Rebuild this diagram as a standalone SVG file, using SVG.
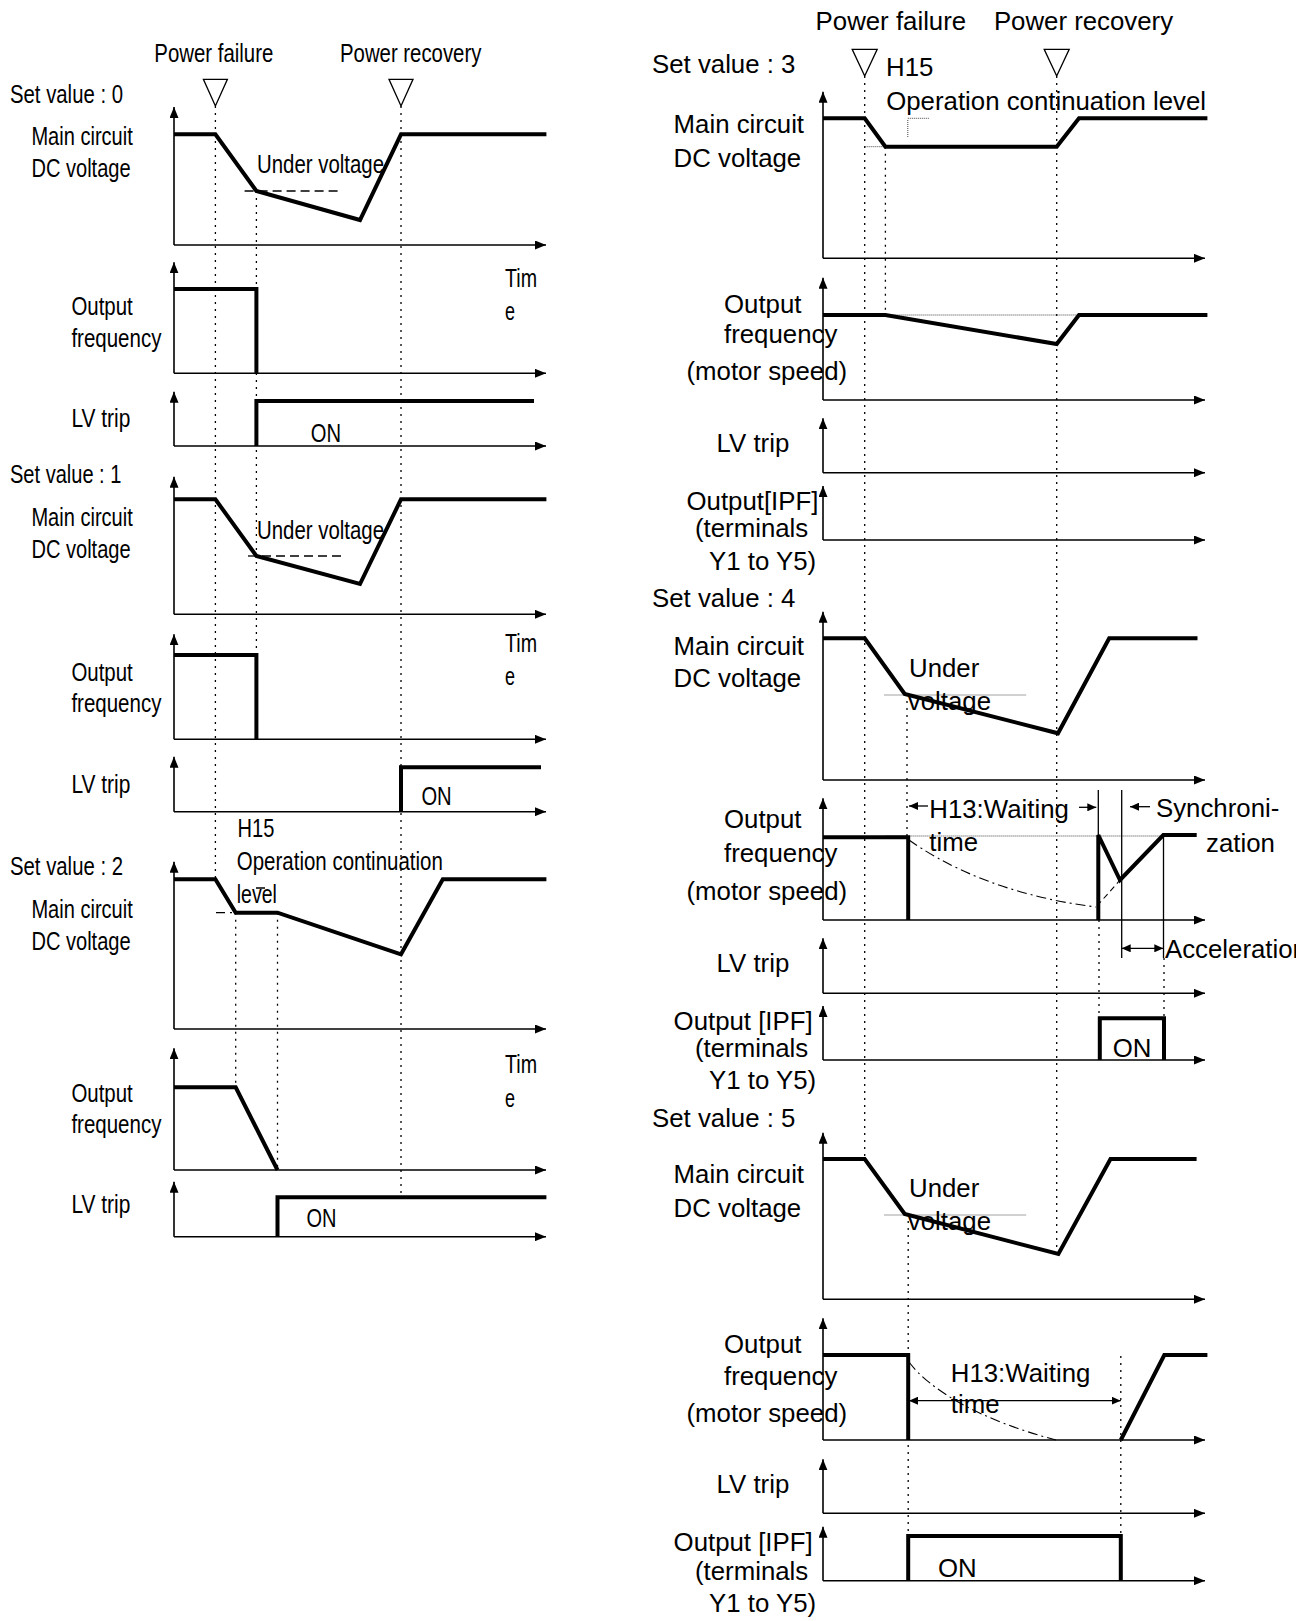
<svg xmlns="http://www.w3.org/2000/svg" width="1315" height="1621" viewBox="0 0 1315 1621">
<style>
.l{font-family:"Liberation Sans Narrow","Liberation Sans",Arial,sans-serif;font-size:25.5px;fill:#000}
.r{font-family:"Liberation Sans",Arial,sans-serif;font-size:25.8px;fill:#000}
.ax{stroke:#000;stroke-width:1.6;fill:none;marker-end:url(#ah)}
.th{stroke:#000;stroke-width:4;fill:none;stroke-linejoin:miter}
.dot{stroke:#000;stroke-width:1.3;fill:none;stroke-dasharray:2 5}
.fd{stroke:#444;stroke-width:1;fill:none;stroke-dasharray:1 1}
.dash{stroke:#000;stroke-width:1.3;fill:none;stroke-dasharray:9 5}
.dd{stroke:#000;stroke-width:1.1;fill:none;stroke-dasharray:10 4 2 4}
.thin{stroke:#000;stroke-width:1.3;fill:none}
.sa{stroke:#000;stroke-width:1.3;fill:none}
.tri{fill:#fff;stroke:#000;stroke-width:1.3}
</style>
<defs>
<marker id="ah" viewBox="0 0 11 9" refX="11" refY="4.5" markerWidth="11" markerHeight="9" markerUnits="userSpaceOnUse" orient="auto"><path d="M0,0 L11,4.5 L0,9 z" fill="#000"/></marker>
<marker id="sh" viewBox="0 0 9 8" refX="9" refY="4" markerWidth="9" markerHeight="8" markerUnits="userSpaceOnUse" orient="auto-start-reverse"><path d="M0,0 L9,4 L0,8 z" fill="#000"/></marker>
<clipPath id="clipR"><rect x="0" y="0" width="1296" height="1621"/></clipPath>
</defs>
<rect width="1315" height="1621" fill="#fff"/>

<!-- guide lines (dotted verticals) -->
<g id="guides">
<path class="dot" d="M215.4,106 V879.3"/>
<path class="dot" d="M256.4,191 V739.3"/>
<path class="dot" d="M401,106 V1197"/>
<path class="dot" d="M235.7,912.7 V1087"/>
<path class="dot" d="M277.5,912.7 V1170"/>
<path class="dot" d="M864.7,76 V1159"/>
<path class="dot" d="M1056.7,76 V1254"/>
<path class="dot" d="M885.4,146.7 V315"/>
<path class="dot" d="M907,694 V837"/>
<path class="dot" d="M1099,920 V1018"/>
<path class="dot" d="M1164,958 V1060"/>
<path class="dot" d="M908.2,1214 V1536"/>
<path class="dot" d="M1120.8,1356 V1536"/>
</g>

<!-- event markers -->
<g id="markers">
<text class="l" x="154.3" y="61.7" textLength="119" lengthAdjust="spacingAndGlyphs">Power failure</text>
<text class="l" x="340" y="61.7" textLength="141.4" lengthAdjust="spacingAndGlyphs">Power recovery</text>
<path class="tri" d="M203.4,79.3 H227.4 L215.4,106 Z"/>
<path class="tri" d="M389,79.3 H413 L401,106 Z"/>
<text class="r" x="815.6" y="30">Power failure</text>
<text class="r" x="993.9" y="30">Power recovery</text>
<path class="tri" d="M852.2,49.3 H877.2 L864.7,76 Z"/>
<path class="tri" d="M1044.2,49.3 H1069.2 L1056.7,76 Z"/>
</g>

<!-- Set value 0 -->
<g id="sv0">
<text class="l" x="10" y="103.3" textLength="113" lengthAdjust="spacingAndGlyphs">Set value : 0</text>
<text class="l" x="31.4" y="145" textLength="101.4" lengthAdjust="spacingAndGlyphs">Main circuit</text>
<text class="l" x="31.4" y="176.7" textLength="99.3" lengthAdjust="spacingAndGlyphs">DC voltage</text>
<path class="ax" d="M174,245 V107"/>
<path class="ax" d="M174,245 H546"/>
<path class="dash" d="M244.6,191 H341"/>
<text class="l" x="257" y="173.3" textLength="127" lengthAdjust="spacingAndGlyphs">Under voltage</text>
<path class="th" d="M174,134.3 H215.4 L256.4,191 L360,220 L401,134.3 H546.4"/>
<text class="l" x="71.4" y="315" textLength="61.4" lengthAdjust="spacingAndGlyphs">Output</text>
<text class="l" x="71.4" y="346.7" textLength="90" lengthAdjust="spacingAndGlyphs">frequency</text>
<text class="l" x="505" y="286.7" textLength="32" lengthAdjust="spacingAndGlyphs">Tim</text>
<text class="l" x="505" y="320" textLength="10" lengthAdjust="spacingAndGlyphs">e</text>
<path class="ax" d="M174,373.3 V262.3"/>
<path class="ax" d="M174,373.3 H546"/>
<path class="th" d="M174,289 H256.4 V373.3"/>
<text class="l" x="71.4" y="426.7" textLength="59" lengthAdjust="spacingAndGlyphs">LV trip</text>
<path class="ax" d="M174,446 V391.7"/>
<path class="ax" d="M174,446 H546"/>
<path class="th" d="M256.4,446 V401 H534"/>
<text class="l" x="310.7" y="441.7" textLength="30.3" lengthAdjust="spacingAndGlyphs">ON</text>
</g>

<!-- Set value 1 -->
<g id="sv1">
<text class="l" x="10" y="482.7" textLength="111.4" lengthAdjust="spacingAndGlyphs">Set value : 1</text>
<text class="l" x="31.4" y="526" textLength="101.4" lengthAdjust="spacingAndGlyphs">Main circuit</text>
<text class="l" x="31.4" y="558.3" textLength="99.3" lengthAdjust="spacingAndGlyphs">DC voltage</text>
<path class="ax" d="M174,614.3 V476.7"/>
<path class="ax" d="M174,614.3 H546"/>
<path class="dash" d="M248,556 H343.6"/>
<text class="l" x="257" y="539.3" textLength="127" lengthAdjust="spacingAndGlyphs">Under voltage</text>
<path class="th" d="M174,499.3 H215.4 L256.4,556 L360,584 L401,499.3 H546.4"/>
<text class="l" x="71.4" y="680.7" textLength="61.4" lengthAdjust="spacingAndGlyphs">Output</text>
<text class="l" x="71.4" y="711.7" textLength="90" lengthAdjust="spacingAndGlyphs">frequency</text>
<text class="l" x="505" y="651.7" textLength="32" lengthAdjust="spacingAndGlyphs">Tim</text>
<text class="l" x="505" y="685" textLength="10" lengthAdjust="spacingAndGlyphs">e</text>
<path class="ax" d="M174,739.3 V634.3"/>
<path class="ax" d="M174,739.3 H546"/>
<path class="th" d="M174,655 H256.4 V739.3"/>
<text class="l" x="71.4" y="792.7" textLength="59" lengthAdjust="spacingAndGlyphs">LV trip</text>
<path class="ax" d="M174,811.7 V756.7"/>
<path class="ax" d="M174,811.7 H546"/>
<path class="th" d="M401,811.7 V767.3 H541"/>
<text class="l" x="421.4" y="805" textLength="30.3" lengthAdjust="spacingAndGlyphs">ON</text>
</g>

<!-- Set value 2 -->
<g id="sv2">
<text class="l" x="237.5" y="836.7" textLength="36.8" lengthAdjust="spacingAndGlyphs">H15</text>
<text class="l" x="236.8" y="870" textLength="206" lengthAdjust="spacingAndGlyphs">Operation continuation</text>
<text class="l" x="236.8" y="903.3" textLength="40" lengthAdjust="spacingAndGlyphs">level</text>
<text class="l" x="10" y="875" textLength="113" lengthAdjust="spacingAndGlyphs">Set value : 2</text>
<text class="l" x="31.4" y="918.3" textLength="101.4" lengthAdjust="spacingAndGlyphs">Main circuit</text>
<text class="l" x="31.4" y="950" textLength="99.3" lengthAdjust="spacingAndGlyphs">DC voltage</text>
<path class="ax" d="M174,1029 V861.7"/>
<path class="ax" d="M174,1029 H546"/>
<path class="dash" d="M216,912.7 H232 M256,888 H266"/>
<path class="th" d="M174,879.3 H215.4 L235.7,912.7 H277.5 L401,954.3 L442.8,879.3 H546.4"/>
<text class="l" x="71.4" y="1101.7" textLength="61.4" lengthAdjust="spacingAndGlyphs">Output</text>
<text class="l" x="71.4" y="1133.3" textLength="90" lengthAdjust="spacingAndGlyphs">frequency</text>
<text class="l" x="505" y="1073.3" textLength="32" lengthAdjust="spacingAndGlyphs">Tim</text>
<text class="l" x="505" y="1106.7" textLength="10" lengthAdjust="spacingAndGlyphs">e</text>
<path class="ax" d="M174,1170 V1048.3"/>
<path class="ax" d="M174,1170 H546"/>
<path class="th" d="M174,1087.3 H235.7 L277.5,1170"/>
<text class="l" x="71.4" y="1213.3" textLength="59" lengthAdjust="spacingAndGlyphs">LV trip</text>
<path class="ax" d="M174,1236.7 V1181.7"/>
<path class="ax" d="M174,1236.7 H546"/>
<path class="th" d="M277.5,1236.7 V1197.3 H546.4"/>
<text class="l" x="306.4" y="1227.3" textLength="30" lengthAdjust="spacingAndGlyphs">ON</text>
</g>

<!-- Set value 3 -->
<g id="sv3">
<text class="r" x="652" y="73.3">Set value : 3</text>
<text class="r" x="886" y="76">H15</text>
<text class="r" x="886.2" y="110">Operation continuation level</text>
<text class="r" x="673.6" y="133.3">Main circuit</text>
<text class="r" x="673.6" y="166.7">DC voltage</text>
<path class="ax" d="M823,258.3 V91.7"/>
<path class="ax" d="M823,258.3 H1205"/>
<path class="fd" d="M864.7,146.7 H885.4 M907.8,120 V138 M907.8,118.3 H929"/>
<path class="th" d="M823,118.3 H864.7 L885.4,146.7 H1056.7 L1079,118.3 H1207.4"/>
<text class="r" x="724" y="313.3">Output</text>
<text class="r" x="724" y="343.3">frequency</text>
<text class="r" x="686.5" y="380">(motor speed)</text>
<path class="ax" d="M823,400 V277.7"/>
<path class="ax" d="M823,400 H1205"/>
<path class="fd" d="M885.4,315 H1079"/>
<path class="th" d="M823,315 H885.4 L1056.7,344 L1079,315 H1207.4"/>
<text class="r" x="716.6" y="451.7">LV trip</text>
<path class="ax" d="M823,472.7 V418.3"/>
<path class="ax" d="M823,472.7 H1205"/>
<text class="r" x="686.5" y="510">Output[IPF]</text>
<text class="r" x="695" y="536.7">(terminals</text>
<text class="r" x="709" y="570">Y1 to Y5)</text>
<path class="ax" d="M823,540 V486"/>
<path class="ax" d="M823,540 H1205"/>
</g>

<!-- Set value 4 -->
<g id="sv4">
<text class="r" x="652" y="606.7">Set value : 4</text>
<text class="r" x="673.6" y="655">Main circuit</text>
<text class="r" x="673.6" y="687.3">DC voltage</text>
<path class="ax" d="M823,780 V611.7"/>
<path class="ax" d="M823,780 H1205"/>
<path class="fd" d="M884.5,695 H1026.6"/>
<text class="r" x="909" y="676.7">Under</text>
<text class="r" x="907.8" y="710">voltage</text>
<path class="th" d="M823,638.3 H864.7 L904.7,694 L1058,733.3 L1109.2,638.3 H1197.5"/>
<text class="r" x="724" y="828.3">Output</text>
<text class="r" x="724" y="861.7">frequency</text>
<text class="r" x="686.5" y="900">(motor speed)</text>
<path class="ax" d="M823,920 V798.3"/>
<path class="ax" d="M823,920 H1205"/>
<path class="fd" d="M885.4,836 H1163"/>
<path class="thin" d="M1098.3,790 V920 M1121.7,790 V958 M1163.5,835 V958"/>
<path class="dd" d="M909,840 C940,862 1000,895 1096,907"/>
<path class="dash" d="M1097,906 L1120,880" style="stroke-dasharray:6 4;stroke-width:1.1"/>
<path class="th" d="M823,837.3 H908.2 V920"/>
<path class="th" d="M1098.3,920 V835 L1120,880 L1163.3,835 H1196.7"/>
<path class="sa" d="M909,806 H928" marker-start="url(#sh)"/>
<text class="r" x="929.3" y="818.3">H13:Waiting</text>
<path class="sa" d="M1079,807.3 H1096.3" marker-end="url(#sh)"/>
<text class="r" x="929.3" y="850.7">time</text>
<path class="sa" d="M1130,806.7 H1150" marker-start="url(#sh)"/>
<text class="r" x="1156" y="816.7">Synchroni-</text>
<text class="r" x="1206" y="851.7">zation</text>
<path class="sa" d="M1121.7,948.3 H1163.3" marker-start="url(#sh)" marker-end="url(#sh)"/>
<text class="r" x="1165" y="958.3" clip-path="url(#clipR)">Acceleration</text>
<text class="r" x="716.6" y="971.7">LV trip</text>
<path class="ax" d="M823,993.3 V938.3"/>
<path class="ax" d="M823,993.3 H1205"/>
<text class="r" x="673.6" y="1030">Output [IPF]</text>
<text class="r" x="695" y="1057.3">(terminals</text>
<text class="r" x="709" y="1089.3">Y1 to Y5)</text>
<path class="ax" d="M823,1060 V1006"/>
<path class="ax" d="M823,1060 H1205"/>
<path class="th" d="M1099.8,1060 V1018.3 H1164 V1060"/>
<text class="r" x="1112.7" y="1057.3">ON</text>
</g>

<!-- Set value 5 -->
<g id="sv5">
<text class="r" x="652" y="1126.7">Set value : 5</text>
<text class="r" x="673.6" y="1183.3">Main circuit</text>
<text class="r" x="673.6" y="1216.7">DC voltage</text>
<path class="ax" d="M823,1299.3 V1132.7"/>
<path class="ax" d="M823,1299.3 H1205"/>
<path class="fd" d="M884.5,1215 H1026.6"/>
<text class="r" x="909" y="1196.7">Under</text>
<text class="r" x="907.8" y="1230">voltage</text>
<path class="th" d="M823,1159 H864.7 L904.7,1214 L1058.4,1254 L1110.5,1159 H1196.6"/>
<text class="r" x="724" y="1352.7">Output</text>
<text class="r" x="724" y="1385">frequency</text>
<text class="r" x="686.5" y="1421.7">(motor speed)</text>
<path class="ax" d="M823,1440 V1318.3"/>
<path class="ax" d="M823,1440 H1205"/>
<path class="dd" d="M909,1362 C930,1390 980,1420 1056,1440"/>
<text class="r" x="950.8" y="1381.7">H13:Waiting</text>
<text class="r" x="950.8" y="1413.3">time</text>
<path class="sa" d="M909,1400.7 H1120.8" marker-start="url(#sh)" marker-end="url(#sh)"/>
<path class="th" d="M823,1355 H908.2 V1440"/>
<path class="th" d="M1120.8,1440 L1164.3,1355 H1207.4"/>
<text class="r" x="716.6" y="1493.3">LV trip</text>
<path class="ax" d="M823,1513.3 V1459.3"/>
<path class="ax" d="M823,1513.3 H1205"/>
<text class="r" x="673.6" y="1550.7">Output [IPF]</text>
<text class="r" x="695" y="1580">(terminals</text>
<text class="r" x="709" y="1611.7">Y1 to Y5)</text>
<path class="ax" d="M823,1580.7 V1526.7"/>
<path class="ax" d="M823,1580.7 H1205"/>
<path class="th" d="M908.2,1580.7 V1536 H1120.8 V1580.7"/>
<text class="r" x="937.9" y="1576.7">ON</text>
</g>
</svg>
